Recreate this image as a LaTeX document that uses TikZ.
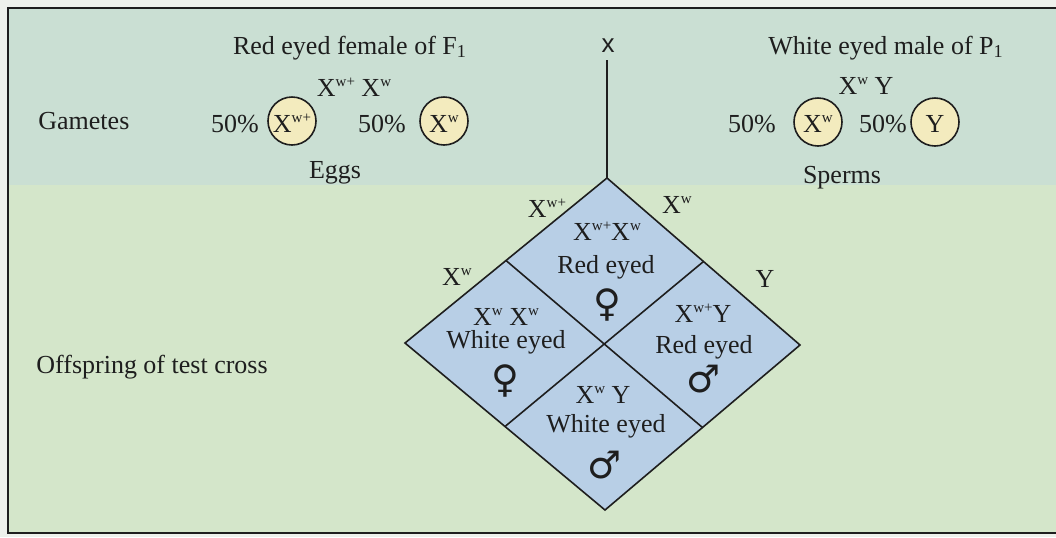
\documentclass[tikz,border=0pt]{standalone}
\usepackage{fontspec}
\setmainfont{Liberation Serif}
\newfontfamily\symfont{DejaVu Sans}
\newfontfamily\crossfont{Liberation Sans}
\usetikzlibrary{calc}
\definecolor{outbg}{HTML}{EEF1EC}
\definecolor{bgtop}{HTML}{CADFD3}
\definecolor{bgbot}{HTML}{D4E6CA}
\definecolor{cellblue}{HTML}{B8CFE6}
\definecolor{gamy}{HTML}{F3EBBE}
\definecolor{ink}{HTML}{1E1E1E}
\newcommand{\sx}[1]{X\raisebox{4.6pt}{\fontsize{7.5}{8}\selectfont #1}}
\begin{document}
\begin{tikzpicture}[x=0.5pt,y=-0.5pt,
  lbl/.style={font=\fontsize{13}{15}\selectfont, inner sep=0pt, text=ink, anchor=base},
  sexsym/.style={font=\symfont\fontsize{19}{20}\selectfont, inner sep=0pt, text=ink},
  gamete/.style={circle, draw=ink, line width=0.8pt, fill=gamy, minimum size=24pt, inner sep=0pt, text=ink},
  gtext/.style={font=\fontsize{13}{15}\selectfont, inner sep=0pt, text=ink, anchor=base},
  edge/.style={draw=ink, line width=0.8pt}]
\useasboundingbox (0,0) rectangle (1056,537);
\fill[outbg] (0,0) rectangle (1056,537);
\fill[bgtop] (8,8) rectangle (1056,185);
\fill[bgbot] (8,185) rectangle (1056,533);
\draw[ink, line width=1pt] (1060,8) -- (8,8) -- (8,533) -- (1060,533);

% top texts
\node[lbl] (fem) at (350,54) {Red eyed female of F\textsubscript{1}};
\node[lbl] (femg) at (354,96) {\sx{w+} \sx{w}};
\node[lbl, anchor=base west] (gam) at (38,129) {Gametes};
\node[lbl] (p1) at (235,132) {50\%};
\node[gamete] (e1) at (292,121) {};
\node[gtext] (e1t) at (292,132) {\sx{w+}};
\node[lbl] (p2) at (382,132) {50\%};
\node[gamete] (e2) at (444,121) {};
\node[gtext] (e2t) at (444,132) {\sx{w}};
\node[lbl] (eggs) at (335,178) {Eggs};

\node[font=\crossfont\fontsize{13}{15}\selectfont, inner sep=0pt, text=ink, anchor=base] (cross) at (608,52) {x};

\node[lbl] (mal) at (886,54) {White eyed male of P\textsubscript{1}};
\node[lbl] (malg) at (866,94) {\sx{w} Y};
\node[lbl] (p3) at (752,132) {50\%};
\node[gamete] (s1) at (818,122) {};
\node[gtext] (s1t) at (818,132) {\sx{w}};
\node[lbl] (p4) at (883,132) {50\%};
\node[gamete] (s2) at (935,122) {};
\node[gtext] (s2t) at (935,132) {Y};
\node[lbl] (sperms) at (842,183) {Sperms};

\node[lbl, anchor=base west] (off) at (36,373) {Offspring of test cross};

% diamond
\coordinate (T) at (607,178);
\coordinate (R) at (800,345);
\coordinate (B) at (605,510);
\coordinate (L) at (405,343);
\coordinate (TL) at ($(T)!0.5!(L)$);
\coordinate (TR) at ($(T)!0.5!(R)$);
\coordinate (BL) at ($(B)!0.5!(L)$);
\coordinate (BR) at ($(B)!0.5!(R)$);
\coordinate (cs) at (607,60);
\filldraw[edge, fill=cellblue] (T) -- (R) -- (B) -- (L) -- cycle;
\draw[edge] (TL) -- (BR);
\draw[edge] (TR) -- (BL);
\draw[edge] (cs) -- (T);

% gamete labels on diamond
\node[lbl] (gl1) at (547,217) {\sx{w+}};
\node[lbl] (gl2) at (677,213) {\sx{w}};
\node[lbl] (gl3) at (457,285) {\sx{w}};
\node[lbl] (gl4) at (765,287) {Y};

% cells
\node[lbl] (c1g) at (607,240) {\sx{w+}\sx{w}};
\node[lbl] (c1p) at (606,273) {Red eyed};
\node[sexsym] (c1s) at (607,305) {♀};

\node[lbl] (c2g) at (506,325) {\sx{w} \sx{w}};
\node[lbl] (c2p) at (506,348) {White eyed};
\node[sexsym] (c2s) at (505,381) {♀};

\node[lbl] (c3g) at (703,322) {\sx{w+}Y};
\node[lbl] (c3p) at (704,353) {Red eyed};
\node[sexsym] (c3s) at (704,379) {♂};

\node[lbl] (c4g) at (603,403) {\sx{w} Y};
\node[lbl] (c4p) at (606,432) {White eyed};
\node[sexsym] (c4s) at (605,465) {♂};
\end{tikzpicture}
\end{document}
